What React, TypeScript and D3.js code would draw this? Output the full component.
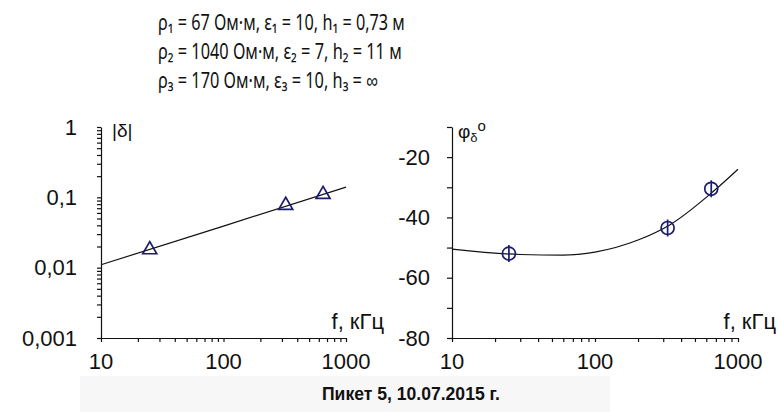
import * as d3 from 'd3'
import { useEffect, useRef } from 'react'

// amplitude |δ| (left), log-log
const ampCurveF = [10, 100, 1000]
const ampCurve = [0.011, 0.039, 0.14]
const ampPointF = [25, 322, 650]
const ampPoints = [0.018, 0.077, 0.11]

// phase φδ (right), log-lin
const phaseCurveF = [10, 30, 60, 100, 200, 333, 667, 1000]
const phaseCurve = [-50.5, -52.3, -52.5, -51.5, -47.5, -42.5, -31.5, -24]
const phasePointF = [25, 322, 650]
const phasePoints = [-52, -43.5, -30.5]

const xTicks = [10, 100, 1000]
const ampTicks = [0.001, 0.01, 0.1, 1]
const ampTickLabels = ['0,001', '0,01', '0,1', '1']
const phaseTicks = [-80, -60, -40, -20]

const paramLines = [
  'ρ₁ = 67 Ом·м, ε₁ = 10, h₁ = 0,73 м',
  'ρ₂ = 1040 Ом·м, ε₂ = 7, h₂ = 11 м',
  'ρ₃ = 170 Ом·м, ε₃ = 10, h₃ = ∞',
]
const paramWidths = [247, 244, 220]
const xLabel = 'f, кГц'
const title = 'Пикет 5, 10.07.2015 г.'

const W = 779
const H = 412
const font = 'Liberation Sans, Arial, sans-serif'
const navy = '#1c1c6e'

function minorLog(lo: number, hi: number) {
  const out: number[] = []
  for (let d = lo; d < hi; d *= 10) {
    for (let k = 1; k < 10; k++) out.push(+(d * k).toPrecision(3))
  }
  out.push(hi)
  return out
}

const App = () => {
  const ref = useRef<SVGSVGElement>(null)

  useEffect(() => {
    const svg = d3.select(ref.current)
    svg.selectAll('.plot').remove()

    const top = 127
    const bottom = 338

    const xL = d3.scaleLog().domain([10, 1000]).range([101, 346])
    const yL = d3.scaleLog().domain([0.001, 1]).range([bottom, top])
    const xR = d3.scaleLog().domain([10, 1000]).range([452, 738])
    const yR = d3.scaleLinear().domain([-80, -10]).range([bottom, top])

    const g = svg.append('g').attr('class', 'plot')

    // parameter block, squeezed to the widths seen in the picture
    paramLines.forEach((line, i) => {
      const t = g
        .append('text')
        .attr('font-family', 'Noto Sans, sans-serif')
        .attr('font-size', 21)
        .attr('fill', '#111')
        .text(line)
      const w = (t.node() as SVGTextElement).getComputedTextLength() || paramWidths[i]
      t.attr(
        'transform',
        'translate(158,' + (30 + i * 29) + ') scale(' + paramWidths[i] / w + ',1)'
      )
    })

    function styleAxis(sel: d3.Selection<SVGGElement, unknown, null, undefined>) {
      sel.selectAll('path, line').attr('stroke', '#111').attr('stroke-width', 1.2)
      sel.selectAll('text').remove()
    }

    // x axes
    for (const x of [xL, xR]) {
      g.append('g')
        .attr('transform', 'translate(0,' + bottom + ')')
        .call(
          d3
            .axisBottom(x)
            .tickValues(minorLog(10, 1000))
            .tickSize(4)
            .tickSizeOuter(0)
        )
        .call(styleAxis)
      g.selectAll(null)
        .data(xTicks)
        .enter()
        .append('text')
        .attr('x', (d) => x(d))
        .attr('y', 369)
        .attr('text-anchor', 'middle')
        .attr('font-family', font)
        .attr('font-size', 22)
        .attr('fill', '#111')
        .text((d) => d)
      g.append('text')
        .attr('x', x.range()[1] + 38)
        .attr('y', 329)
        .attr('text-anchor', 'end')
        .attr('font-family', font)
        .attr('font-size', 22)
        .attr('fill', '#111')
        .text(xLabel)
    }

    // left y axis
    g.append('g')
      .attr('transform', 'translate(' + xL(10) + ',0)')
      .call(
        d3
          .axisLeft(yL)
          .tickValues(minorLog(0.001, 1))
          .tickSize(4)
          .tickSizeOuter(0)
      )
      .call(styleAxis)
    g.selectAll(null)
      .data(ampTicks)
      .enter()
      .append('text')
      .attr('x', 77)
      .attr('y', (d) => yL(d))
      .attr('dy', '0.35em')
      .attr('text-anchor', 'end')
      .attr('font-family', font)
      .attr('font-size', 22)
      .attr('fill', '#111')
      .text((_d, i) => ampTickLabels[i])

    // right y axis
    g.append('g')
      .attr('transform', 'translate(' + xR(10) + ',0)')
      .call(
        d3
          .axisLeft(yR)
          .tickValues(d3.range(-80, 0, 10))
          .tickSize(5)
          .tickSizeOuter(0)
      )
      .call(styleAxis)
    g.selectAll(null)
      .data(phaseTicks)
      .enter()
      .append('text')
      .attr('x', 430)
      .attr('y', (d) => yR(d))
      .attr('dy', '0.35em')
      .attr('text-anchor', 'end')
      .attr('font-family', font)
      .attr('font-size', 22)
      .attr('fill', '#111')
      .text((d) => d)

    // curves
    const ampLine = d3
      .line<number>()
      .x((_d, i) => xL(ampCurveF[i]))
      .y((d) => yL(d))
    g.append('path')
      .attr('d', ampLine(ampCurve))
      .attr('fill', 'none')
      .attr('stroke', '#111')
      .attr('stroke-width', 1.2)

    const phaseLine = d3
      .line<number>()
      .x((_d, i) => xR(phaseCurveF[i]))
      .y((d) => yR(d))
      .curve(d3.curveMonotoneX)
    g.append('path')
      .attr('d', phaseLine(phaseCurve))
      .attr('fill', 'none')
      .attr('stroke', '#111')
      .attr('stroke-width', 1.2)

    // markers
    const tri = d3.symbol().type(d3.symbolTriangle).size(85)
    g.selectAll(null)
      .data(ampPoints)
      .enter()
      .append('path')
      .attr('d', tri() as string)
      .attr('transform', (d, i) => 'translate(' + xL(ampPointF[i]) + ',' + yL(d) + ')')
      .attr('fill', 'none')
      .attr('stroke', navy)
      .attr('stroke-width', 1.7)

    const circ = g
      .selectAll(null)
      .data(phasePoints)
      .enter()
      .append('g')
      .attr('transform', (d, i) => 'translate(' + xR(phasePointF[i]) + ',' + yR(d) + ')')
    circ
      .append('circle')
      .attr('r', 6.5)
      .attr('fill', 'none')
      .attr('stroke', navy)
      .attr('stroke-width', 1.7)
    circ
      .append('line')
      .attr('y1', -8.5)
      .attr('y2', 8.5)
      .attr('stroke', navy)
      .attr('stroke-width', 1.7)
  }, [])

  return (
    <svg
      ref={ref}
      width={W}
      height={H}
      style={{ position: 'absolute', left: 0, top: 0, background: '#fff' }}
    >
      <rect x={80} y={376} width={530} height={36} fill="#f7f7f7" />
      <text x={112} y={137} fontFamily={font} fontSize={19} fill="#111">
        |δ|
      </text>
      <text x={458} y={138} fontFamily={font} fontSize={19} fill="#111">
        φ<tspan dy={4} fontSize={13}>δ</tspan>
        <tspan dy={-11} fontSize={15}>o</tspan>
      </text>
      <text
        x={411}
        y={400}
        textAnchor="middle"
        fontFamily={font}
        fontSize={18}
        fontWeight="bold"
        fill="#111"
        textLength={178}
        lengthAdjust="spacingAndGlyphs"
      >
        {title}
      </text>
    </svg>
  )
}

export default App
